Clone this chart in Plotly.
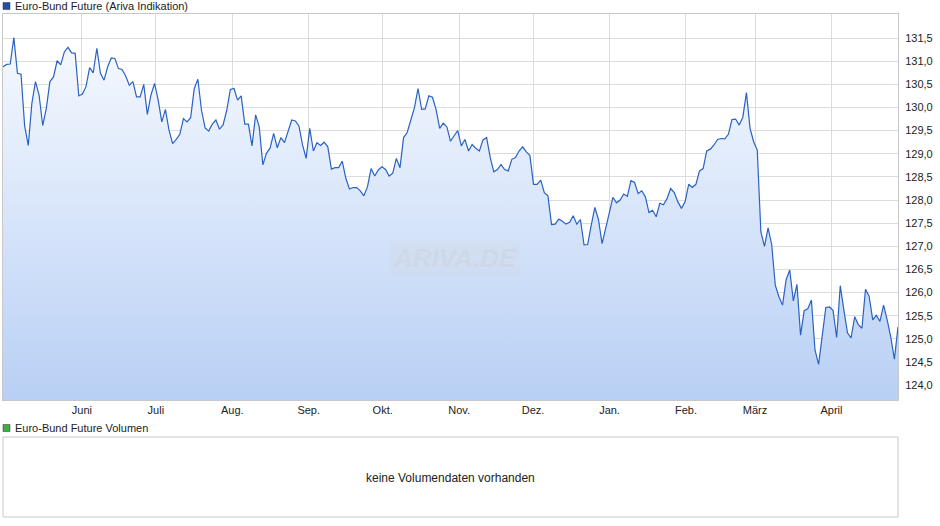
import pandas as pd
import plotly.graph_objects as go

prices = [130.88,130.93,130.94,131.51,130.74,130.72,129.60,129.18,130.09,130.56,130.27,129.61,129.98,130.56,130.66,131.01,130.92,131.20,131.30,131.18,131.17,130.25,130.29,130.45,130.86,130.75,131.28,130.74,130.59,130.88,131.07,131.06,130.84,130.82,130.68,130.48,130.56,130.23,130.23,130.50,129.85,130.27,130.52,130.16,129.69,129.96,129.51,129.22,129.31,129.42,129.76,129.69,129.78,130.41,130.61,129.94,129.56,129.49,129.64,129.73,129.53,129.63,129.94,130.39,130.41,130.16,130.25,129.64,129.64,129.17,129.84,129.58,128.76,129.01,129.12,129.44,129.13,129.35,129.24,129.49,129.73,129.71,129.60,129.19,
128.90,129.55,129.06,129.24,129.18,129.25,129.15,128.67,128.70,128.70,128.84,128.47,128.24,128.27,128.27,128.20,128.09,128.29,128.68,128.52,128.65,128.72,128.66,128.52,128.58,128.90,128.70,129.35,129.46,129.73,129.99,130.41,129.96,129.97,130.25,130.22,129.96,129.55,129.66,129.58,129.27,129.39,129.50,129.17,129.31,129.06,129.20,129.12,129.06,129.30,129.35,128.92,128.61,128.66,128.77,128.66,128.63,128.88,128.92,129.06,129.15,129.04,128.96,128.34,128.34,128.43,128.16,128.09,127.47,127.48,127.59,127.54,127.48,127.52,127.66,127.48,127.58,127.03,127.04,127.46,127.84,127.58,127.06,127.39,
127.71,128.06,127.94,128.00,128.13,128.08,128.42,128.38,128.14,128.20,128.07,127.73,127.78,127.64,127.93,127.90,128.03,128.25,128.16,127.96,127.82,127.96,128.34,128.27,128.34,128.63,128.68,129.06,129.10,129.19,129.31,129.33,129.32,129.42,129.74,129.75,129.62,129.79,130.32,129.55,129.26,129.08,127.31,127.00,127.40,127.04,126.16,125.91,125.73,126.28,126.49,125.82,126.18,125.08,125.61,125.65,125.84,124.76,124.45,125.04,125.68,125.69,125.62,125.03,126.15,125.62,125.13,125.02,125.48,125.31,125.23,126.07,125.92,125.41,125.51,125.38,125.73,125.41,125.04,124.56,125.26]

start_date = "2017-04-30"
end_date = "2018-04-28"
month_ticks = ["2017-06-01","2017-07-01","2017-08-01","2017-09-01","2017-10-01","2017-11-01","2017-12-01","2018-01-01","2018-02-01","2018-03-01","2018-04-01"]
month_labels = ["Juni","Juli","Aug.","Sep.","Okt.","Nov.","Dez.","Jan.","Feb.","März","April"]
y_ticks = [124.0,124.5,125.0,125.5,126.0,126.5,127.0,127.5,128.0,128.5,129.0,129.5,130.0,130.5,131.0,131.5]
y_labels = [f"{v:.1f}".replace(".", ",") for v in y_ticks]

dates = pd.date_range(start_date, end_date, periods=len(prices))
ymin, ymax = 123.68, 132.02

fig = go.Figure()
fig.add_trace(go.Scatter(x=dates, y=[ymin]*len(dates), mode="lines", line=dict(width=0), hoverinfo="skip", showlegend=False))
fig.add_trace(go.Scatter(x=dates, y=prices, mode="lines", line=dict(color="#2a62c2", width=1.2),
                         fill="tonexty",
                         fillgradient=dict(type="vertical", colorscale=[[0, "#b8d0f5"], [1, "#f6f9fe"]]),
                         showlegend=False))
fig.update_layout(
    width=940, height=526, paper_bgcolor="white", plot_bgcolor="white",
    margin=dict(l=3, r=42, t=14, b=9),
    font=dict(family="Liberation Sans, Arial", size=11, color="#222"),
    xaxis=dict(range=[dates[0], dates[-1]], tickvals=month_ticks, ticktext=month_labels,
               showgrid=True, gridcolor="#dcdcdc", gridwidth=1, ticks="", showline=True,
               linecolor="#c8c8c8", mirror=True, domain=[0, 1], zeroline=False),
    yaxis=dict(range=[ymin, ymax], side="right", tickvals=y_ticks, ticktext=y_labels,
               showgrid=True, gridcolor="#dcdcdc", ticks="", showline=True, linecolor="#c8c8c8",
               mirror=True, domain=[0.2326, 1], zeroline=False, ticklabelstandoff=4),
)
fig.add_shape(type="rect", xref="paper", yref="paper", x0=0, x1=1, y0=0, y1=0.159,
              line=dict(color="#c8c8c8", width=1))
fig.add_annotation(xref="paper", yref="paper", x=0.5, y=0.06, text="keine Volumendaten vorhanden",
                   showarrow=False, font=dict(size=12, color="#222"))
for ypix, col, txt in [(6, "#1f4fa8", "Euro-Bund Future (Ariva Indikation)"), (428, "#3cb043", "Euro-Bund Future Volumen")]:
    fig.add_shape(type="rect", xref="paper", yref="paper",
                  x0=0, x1=7/895, y0=(517-ypix-3.5)/503, y1=(517-ypix+3.5)/503,
                  fillcolor=col, line=dict(color="#333", width=0.5))
    fig.add_annotation(xref="paper", yref="paper", x=10/895, y=(517-ypix)/503, text=txt,
                       xanchor="left", yanchor="middle", showarrow=False, font=dict(size=11, color="#222"))
fig.add_annotation(x=0.505, y=0.515, xref="paper", yref="paper", text="<b><i>ARIVA.DE</i></b>",
                   showarrow=False, font=dict(size=26, color="rgba(200,205,215,0.35)"),
                   bgcolor="rgba(210,215,225,0.25)", borderpad=2)
fig.write_html("out.html", config={"displayModeBar": False}, post_script="document.body.style.margin='0';")
